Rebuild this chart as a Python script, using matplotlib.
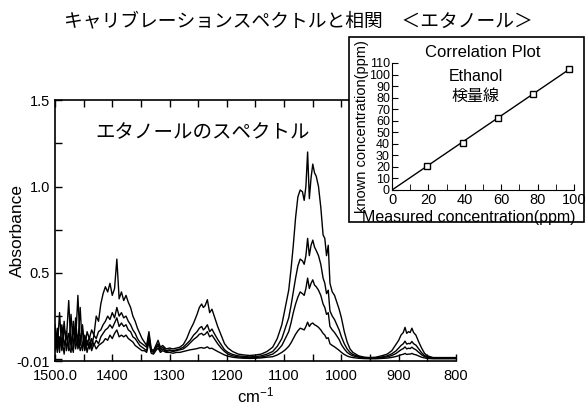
import matplotlib
matplotlib.use("Agg")
import matplotlib.pyplot as plt
from matplotlib.ticker import MultipleLocator
from matplotlib.patches import Rectangle

plt.rcParams['font.family'] = ['Liberation Sans', 'Noto Sans CJK JP']
plt.rcParams['mathtext.default'] = 'regular'
JP = ['Noto Sans CJK JP', 'Liberation Sans']

# wavenumber (cm-1), one line per segment
wn = [1500, 1496, 1492, 1488, 1484, 1480, 1476, 1472, 1468, 1464, 1460, 1456, 1452, 1448, 1444, 1440, 1436, 1432, 1428, 1424, 1420,
      1416, 1412, 1408, 1404, 1400, 1396, 1392, 1388, 1384, 1380, 1376, 1372, 1368, 1364, 1360, 1356, 1352, 1348, 1344, 1340, 1336,
      1332, 1328, 1324, 1320, 1316, 1312, 1306, 1300, 1294, 1288, 1282, 1276, 1270, 1264, 1258, 1252,
      1248, 1244, 1241, 1238, 1234, 1230, 1226, 1222, 1216, 1210, 1204, 1198, 1190, 1180, 1170, 1160, 1150, 1140, 1130,
      1120, 1112, 1104, 1098, 1092, 1088, 1084, 1080, 1076, 1072, 1068, 1065, 1062, 1059, 1056, 1053, 1050, 1047, 1044, 1040,
      1036, 1032, 1029, 1026, 1023, 1020, 1016, 1012, 1008, 1004, 1000, 995, 990, 985, 980, 970, 960, 950, 940, 930,
      920, 912, 905, 900, 896, 892, 889, 886, 883, 880, 877, 874, 870, 865, 860, 855, 850, 845, 840, 830, 820, 810, 800]

abs1 = [0.20, 0.06, 0.27, 0.05, 0.18, 0.12, 0.34, 0.06, 0.22, 0.10, 0.37, 0.08, 0.20, 0.06, 0.16, 0.12, 0.17, 0.14, 0.25, 0.22, 0.32,
        0.38, 0.42, 0.39, 0.44, 0.37, 0.41, 0.58, 0.35, 0.39, 0.34, 0.37, 0.33, 0.30, 0.25, 0.22, 0.18, 0.15, 0.12, 0.10, 0.08, 0.16,
        0.06, 0.05, 0.08, 0.11, 0.07, 0.08, 0.06, 0.065, 0.06, 0.065, 0.07, 0.085, 0.12, 0.17, 0.21, 0.26,
        0.30, 0.32, 0.30, 0.31, 0.345, 0.27, 0.29, 0.25, 0.19, 0.14, 0.09, 0.065, 0.045, 0.03, 0.025, 0.022, 0.025, 0.03, 0.045,
        0.07, 0.12, 0.20, 0.30, 0.40, 0.52, 0.66, 0.82, 0.94, 0.98, 0.97, 0.92, 1.00, 1.20, 0.93, 1.05, 1.13, 1.08, 1.06, 1.00,
        0.88, 0.72, 0.70, 0.60, 0.66, 0.44, 0.39, 0.37, 0.33, 0.29, 0.24, 0.16, 0.10, 0.06, 0.04, 0.02, 0.012, 0.01, 0.012, 0.02,
        0.03, 0.05, 0.085, 0.11, 0.14, 0.155, 0.185, 0.15, 0.16, 0.155, 0.18, 0.155, 0.14, 0.10, 0.065, 0.035, 0.02, 0.015, 0.01, 0.01, 0.01, 0.01, 0.01]

abs2 = [0.12, 0.15, 0.04, 0.20, 0.08, 0.14, 0.05, 0.26, 0.07, 0.18, 0.09, 0.30, 0.05, 0.14, 0.08, 0.13, 0.07, 0.14, 0.12, 0.16, 0.17,
        0.20, 0.22, 0.25, 0.23, 0.27, 0.24, 0.30, 0.25, 0.27, 0.24, 0.25, 0.22, 0.20, 0.17, 0.15, 0.12, 0.10, 0.09, 0.08, 0.07, 0.14,
        0.05, 0.045, 0.07, 0.09, 0.06, 0.07, 0.05, 0.055, 0.05, 0.055, 0.06, 0.07, 0.09, 0.11, 0.14, 0.16,
        0.18, 0.19, 0.17, 0.18, 0.20, 0.16, 0.175, 0.15, 0.115, 0.085, 0.055, 0.04, 0.028, 0.02, 0.016, 0.014, 0.016, 0.02, 0.03,
        0.045, 0.075, 0.12, 0.18, 0.24, 0.31, 0.39, 0.47, 0.54, 0.58, 0.57, 0.55, 0.60, 0.70, 0.60, 0.66, 0.69, 0.65, 0.63, 0.60,
        0.55, 0.47, 0.44, 0.38, 0.40, 0.28, 0.25, 0.23, 0.20, 0.17, 0.13, 0.09, 0.06, 0.04, 0.028, 0.016, 0.01, 0.008, 0.009, 0.013,
        0.02, 0.032, 0.048, 0.065, 0.08, 0.09, 0.105, 0.088, 0.092, 0.09, 0.103, 0.09, 0.082, 0.06, 0.038, 0.022, 0.014, 0.01, 0.008, 0.008, 0.008, 0.008, 0.008]

abs3 = [0.16, 0.04, 0.13, 0.06, 0.22, 0.05, 0.15, 0.10, 0.04, 0.24, 0.06, 0.12, 0.17, 0.05, 0.11, 0.06, 0.12, 0.08, 0.11, 0.09, 0.13,
        0.15, 0.17, 0.18, 0.20, 0.18, 0.21, 0.24, 0.19, 0.21, 0.19, 0.20, 0.17, 0.16, 0.13, 0.12, 0.10, 0.08, 0.07, 0.06, 0.05, 0.12,
        0.045, 0.04, 0.06, 0.08, 0.05, 0.06, 0.045, 0.05, 0.045, 0.05, 0.055, 0.06, 0.075, 0.095, 0.115, 0.13,
        0.145, 0.15, 0.14, 0.145, 0.16, 0.13, 0.14, 0.12, 0.09, 0.065, 0.045, 0.03, 0.02, 0.014, 0.01, 0.009, 0.01, 0.013, 0.02,
        0.03, 0.05, 0.08, 0.12, 0.16, 0.21, 0.27, 0.32, 0.36, 0.39, 0.38, 0.37, 0.41, 0.47, 0.41, 0.44, 0.46, 0.43, 0.42, 0.40,
        0.37, 0.32, 0.30, 0.26, 0.27, 0.19, 0.17, 0.155, 0.135, 0.115, 0.085, 0.06, 0.04, 0.028, 0.02, 0.012, 0.008, 0.006, 0.007, 0.01,
        0.014, 0.022, 0.033, 0.045, 0.055, 0.062, 0.072, 0.06, 0.064, 0.062, 0.07, 0.062, 0.055, 0.04, 0.026, 0.016, 0.01, 0.008, 0.006, 0.006, 0.006, 0.006, 0.006]

abs4 = [0.05, 0.18, 0.08, 0.12, 0.03, 0.16, 0.07, 0.04, 0.19, 0.06, 0.14, 0.05, 0.09, 0.13, 0.04, 0.10, 0.05, 0.09, 0.06, 0.08, 0.09,
        0.10, 0.12, 0.11, 0.14, 0.12, 0.15, 0.17, 0.13, 0.14, 0.13, 0.14, 0.12, 0.11, 0.10, 0.08, 0.07, 0.06, 0.05, 0.05, 0.04, 0.10,
        0.035, 0.03, 0.05, 0.065, 0.04, 0.05, 0.04, 0.04, 0.035, 0.04, 0.04, 0.045, 0.05, 0.055, 0.058, 0.062,
        0.066, 0.068, 0.064, 0.066, 0.072, 0.062, 0.064, 0.056, 0.045, 0.035, 0.025, 0.018, 0.012, 0.008, 0.006, 0.005, 0.006, 0.008, 0.012,
        0.015, 0.025, 0.04, 0.055, 0.075, 0.095, 0.12, 0.145, 0.165, 0.18, 0.175, 0.17, 0.19, 0.215, 0.19, 0.205, 0.21, 0.20, 0.195, 0.185,
        0.17, 0.15, 0.14, 0.12, 0.125, 0.09, 0.08, 0.072, 0.062, 0.052, 0.04, 0.028, 0.019, 0.013, 0.01, 0.006, 0.004, 0.003, 0.003, 0.005,
        0.007, 0.011, 0.016, 0.021, 0.026, 0.029, 0.034, 0.028, 0.03, 0.03, 0.034, 0.029, 0.026, 0.019, 0.012, 0.008, 0.005, 0.004, 0.003, 0.003, 0.003, 0.003, 0.003]

spectra = [abs1, abs2, abs3, abs4]

# calibration (inset)
measured = [19.4, 38.8, 58.4, 77.3, 97.4]
known = [20.8, 41.0, 62.6, 82.9, 104.5]
fit_x = [0, 97.4]
fit_y = [0, 104.5]

xticks = [1500, 1400, 1300, 1200, 1100, 1000, 900, 800]
xticklabels = ['1500.0', '1400', '1300', '1200', '1100', '1000', '900', '800']
yticks = [-0.01, 0.5, 1.0, 1.5]
yticklabels = ['-0.01', '0.5', '1.0', '1.5']

fig = plt.figure(figsize=(5.88, 4.05), dpi=100)

ax = fig.add_axes([0.0935, 0.1086, 0.682, 0.644])
for s in spectra:
    ax.plot(wn, s, color='black', lw=1.0)
ax.set_xlim(1500, 800)
ax.set_ylim(-0.01, 1.5)
ax.set_xticks(xticks)
ax.set_xticklabels(xticklabels)
ax.set_yticks(yticks)
ax.set_yticklabels(yticklabels)
ax.xaxis.set_minor_locator(MultipleLocator(50))
ax.yaxis.set_minor_locator(MultipleLocator(0.25))
ax.tick_params(which='both', direction='in', top=True, right=False, labelsize=10.5, length=5, width=1)
ax.tick_params(axis='x', pad=5.5)
ax.spines['right'].set_visible(False)
for sp in ['left', 'bottom', 'top']:
    ax.spines[sp].set_linewidth(1.2)
ax.set_xlabel('cm$^{-1}$', fontsize=12, labelpad=2)
ax.set_ylabel('Absorbance', fontsize=12.5)
ax.yaxis.set_label_coords(-0.075, 0.5)
ax.text(1242, 1.31, 'エタノールのスペクトル', family=JP, fontsize=14, ha='center', va='center')

fig.text(0.507, 0.948, 'キャリブレーションスペクトルと相関　＜エタノール＞', family=JP,
         fontsize=13.5, ha='center', va='center')

# inset frame
fig.patches.append(Rectangle((0.5935, 0.452), 0.3997, 0.457, transform=fig.transFigure,
                             facecolor='white', edgecolor='black', lw=1.2, zorder=5))

ins = fig.add_axes([0.6667, 0.5309, 0.3095, 0.3136], zorder=6)
ins.patch.set_alpha(0)
ins.plot(fit_x, fit_y, color='black', lw=1.0)
ins.plot(measured, known, linestyle='none', marker='s', markersize=4.5,
         markerfacecolor='white', markeredgecolor='black', markeredgewidth=1)
ins.set_xlim(0, 100)
ins.set_ylim(0, 110)
ins.set_xticks([0, 20, 40, 60, 80, 100])
ins.set_yticks(range(0, 111, 10))
ins.xaxis.set_minor_locator(MultipleLocator(10))
ins.tick_params(which='both', direction='in', length=4)
ins.tick_params(axis='x', labelsize=10.5, pad=2.5)
ins.tick_params(axis='y', labelsize=9, pad=1.5)
ins.spines['top'].set_visible(False)
ins.spines['right'].set_visible(False)
ins.set_title('Correlation Plot', fontsize=12, pad=4)
ins.set_xlabel('Measured concentration(ppm)', fontsize=11.5, labelpad=0)
ins.xaxis.set_label_coords(0.42, -0.155)
ins.set_ylabel('known concentration(ppm)', fontsize=10.5, labelpad=0)
ins.text(46, 98, 'Ethanol', fontsize=11.5, ha='center', va='center')
ins.text(46, 81, '検量線', family=JP, fontsize=11.5, ha='center', va='center')

fig.savefig('out.png', dpi=100)
